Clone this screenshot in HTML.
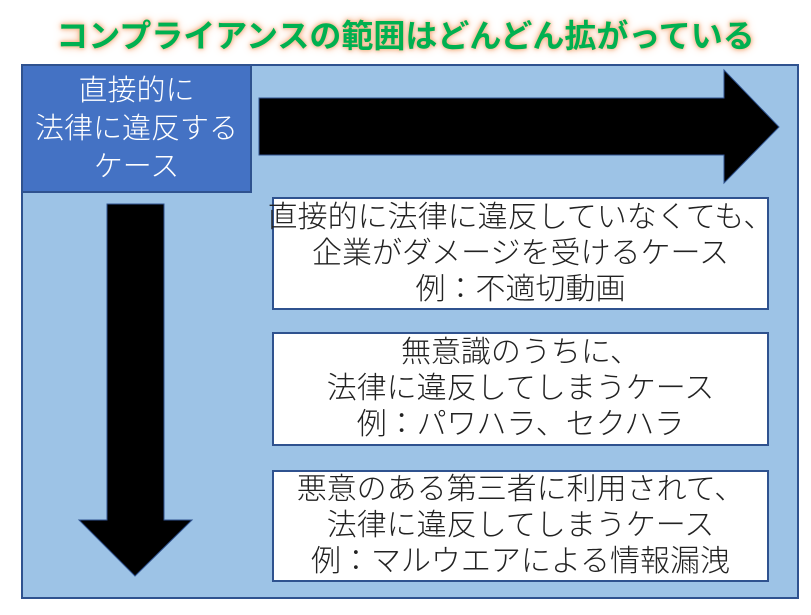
<!DOCTYPE html>
<html><head><meta charset="utf-8"><style>
body{margin:0;width:811px;height:615px;background:#fff;position:relative;overflow:hidden;font-family:"Liberation Sans","Noto Sans CJK JP",sans-serif}
.t{position:absolute;left:0;width:811px;top:11px;text-align:center;font-size:32px;font-weight:bold;color:#00B050;text-shadow:0 0 6px #F4B183,0 0 10px #F8CBAD,0 0 3px #F4B183;white-space:nowrap}
.o{position:absolute;left:21px;top:64px;width:774px;height:531px;background:#9DC3E6;border:2px solid #2F528F}
.b{position:absolute;left:21px;top:64px;width:227px;height:125px;background:#4472C4;border:2px solid #2F528F;color:#fff;font-size:29px;line-height:38px;text-align:center;display:flex;align-items:center;justify-content:center;font-weight:300;white-space:nowrap}
.w{position:absolute;left:272px;width:493px;background:#fff;border:2px solid #2F528F;font-size:30px;line-height:36px;text-align:center;color:#222;display:flex;align-items:center;justify-content:center;white-space:nowrap;font-weight:300}
</style></head><body>
<div class="t">コンプライアンスの範囲はどんどん拡がっている</div>
<div class="o"></div>
<div class="b">直接的に<br>法律に違反する<br>ケース</div>
<svg style="position:absolute;left:0;top:0" width="811" height="615">
<polygon points="259,98 724,98 724,70 779,127 724,183 724,155 259,155" fill="#000" stroke="#2F528F" stroke-width="1"/>
<polygon points="107,204 164,204 164,520 192,520 135,576 79,520 107,520" fill="#000" stroke="#2F528F" stroke-width="1"/>
</svg>
<div class="w" style="top:197px;height:109px">直接的に法律に違反していなくても、<br>企業がダメージを受けるケース<br>例：不適切動画</div>
<div class="w" style="top:332px;height:110px">無意識のうちに、<br>法律に違反してしまうケース<br>例：パワハラ、セクハラ</div>
<div class="w" style="top:470px;height:108px">悪意のある第三者に利用されて、<br>法律に違反してしまうケース<br>例：マルウエアによる情報漏洩</div>
</body></html>
